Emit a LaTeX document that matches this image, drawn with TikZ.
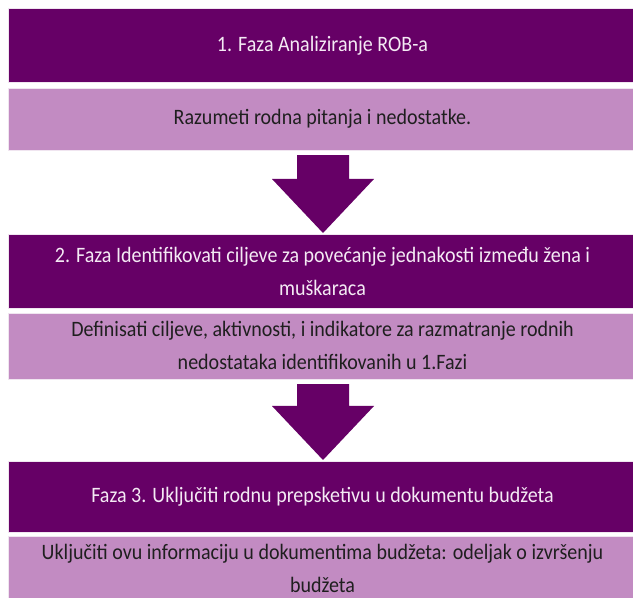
\documentclass[tikz,border=0pt]{standalone}
\usepackage{fontspec}
\setmainfont{Carlito}[FakeStretch=0.91]
\usetikzlibrary{positioning,calc}
\definecolor{plum}{HTML}{660066}
\definecolor{lilac}{HTML}{C28BC2}
\definecolor{paleText}{HTML}{F4EAF4}

\begin{document}
\begin{tikzpicture}[x=1pt, y=1pt,
    phaseBox/.style={rectangle, fill=plum, draw=white!90!plum, line width=0.6pt, text=paleText, font=\fontsize{22}{33}\selectfont, minimum width=629pt, align=center, inner sep=0pt},
    taskBox/.style={rectangle, fill=lilac, draw=white!90!plum, line width=0.6pt, text=black!88, font=\fontsize{22}{33}\selectfont, minimum width=629pt, align=center, inner sep=0pt},
    flowArrow/.style={fill=plum, draw=none}
]
    \useasboundingbox[fill=white] (0,0) rectangle (633,598);

    \node[phaseBox, minimum height=74pt, anchor=north] (phase1) at (322.5, 590) {1. Faza Analiziranje ROB-a};
    \node[taskBox, minimum height=62pt, below=5pt of phase1] (task1) {Razumeti rodna pitanja i nedostatke.};

    \node[phaseBox, minimum height=74pt, anchor=north] (phase2) at (322.5, 364) {
        2. Faza Identifikovati ciljeve za povećanje jednakosti između žena i\\
        muškaraca
    };
    \node[taskBox, minimum height=66pt, below=4pt of phase2] (task2) {
        Definisati ciljeve, aktivnosti, i indikatore za razmatranje rodnih\\
        nedostataka identifikovanih u 1.Fazi
    };

    \node[phaseBox, minimum height=71pt, anchor=north] (phase3) at (322.5, 137) {Faza 3. Uključiti rodnu prepsketivu u dokumentu budžeta};
    \node[taskBox, minimum height=66pt, below=3pt of phase3] (task3) {
        Uključiti ovu informaciju u dokumentima budžeta: odeljak o izvršenju\\
        budžeta
    };

    % block arrows between the phases
    \foreach \from/\to in {task1/phase2, task2/phase3} {
        \coordinate (tail) at ($(\from.south)+(0.5,-5)$);
        \coordinate (tip) at ($(\to.north)+(0.5,1)$);
        \fill[flowArrow] ($(tail)+(-26,0)$) -- ($(tail)+(26,0)$) -- ($(tip)+(26,54)$)
            -- ($(tip)+(51,54)$) -- (tip) -- ($(tip)+(-51,54)$) -- ($(tip)+(-26,54)$) -- cycle;
    }
\end{tikzpicture}
\end{document}
